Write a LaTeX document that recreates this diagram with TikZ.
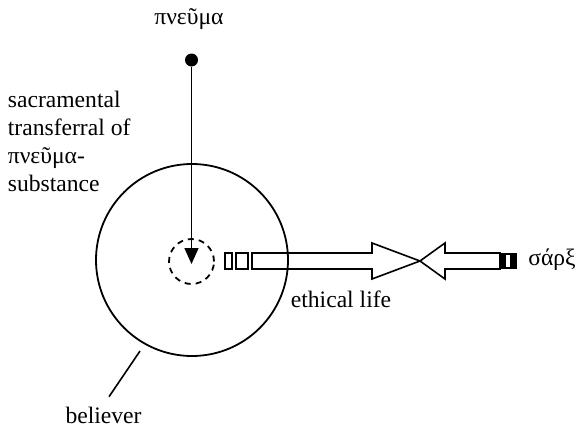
\documentclass[tikz,border=0pt]{standalone}
\usepackage{fontspec}
\setmainfont{Liberation Serif}
\usetikzlibrary{arrows.meta,positioning}

\begin{document}
\begin{tikzpicture}[x=0.5pt,y=-0.5pt,line width=0.9pt,
    lbl/.style={font=\fontsize{11.8}{14}\selectfont, inner sep=0pt},
    hollow/.style={line width=0.8pt, line join=miter}]
    \useasboundingbox (0,0) rectangle (582,428);
    % believer with the spirit inside
    \node[draw, circle, minimum size=96pt, inner sep=0pt] (believer) at (192,260) {};
    \node[draw, circle, dash pattern=on 3pt off 2.5pt, minimum size=22.5pt, inner sep=0pt] (inner) at (191.5,261.5) {};
    % spirit coming down
    \node[lbl, anchor=base] (spirit) at (189,25) {πνεῦμα};
    \node[circle, fill, inner sep=0pt, minimum size=6.5pt] (dot) at (191.5,60) {};
    \coordinate (tip) at (191.5,264);
    \draw[-{Triangle[length=8pt,width=7pt]}, line width=0.8pt] (dot) -- (tip);
    \node[lbl, anchor=base west, align=left] (transfer) at (7,191) {sacramental\\transferral of\\πνεῦμα-\\substance};
    % ethical life against the flesh
    \draw[hollow] (225,253) rectangle (232,269);
    \draw[hollow] (236,253) rectangle (248,269);
    \draw[hollow] (252,253) -- (372,253) -- (372,243) -- (420,261) -- (372,279) -- (372,269) -- (252,269) -- cycle;
    \draw[hollow] (420,261) -- (445,243) -- (445,253) -- (500,253) -- (500,269) -- (445,269) -- (445,279) -- cycle;
    \fill (500,253) rectangle (517,269);
    \fill[white] (506,255) rectangle (510,267);
    \node[lbl, anchor=base] (flesh) at (552,265) {σάρξ};
    \node[lbl, anchor=base] (ethics) at (341,307) {ethical life};
    % pointer to the believer
    \node[lbl, anchor=base] (believerlbl) at (103.5,423) {believer};
    \coordinate (pin) at (140,351);
    \draw[line width=0.8pt] (pin) -- ([shift={(5.5,-9)}]believerlbl.north);
\end{tikzpicture}
\end{document}
